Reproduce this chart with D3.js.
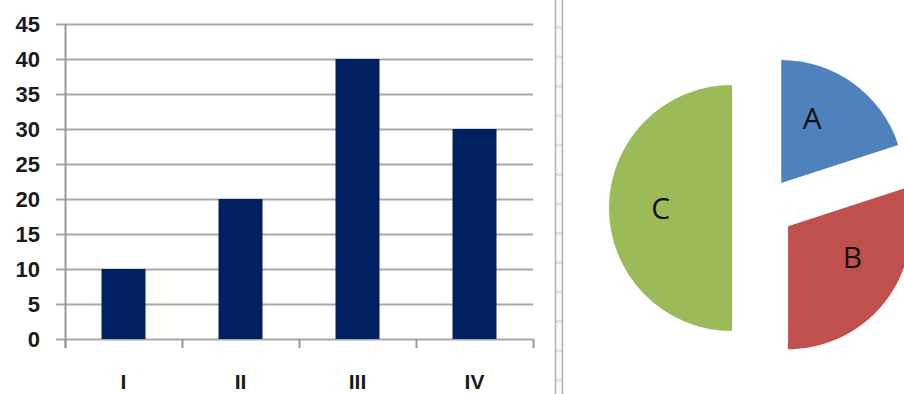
<!DOCTYPE html>
<html>
<head>
<meta charset="utf-8">
<script src="https://cdn.jsdelivr.net/npm/d3@7"></script>
<style>
  html, body { margin: 0; padding: 0; background: #ffffff; }
  svg { display: block; }
</style>
</head>
<body>
<svg id="chart" width="904" height="394"></svg>
<script>
// Column chart data
const categories = ["I", "II", "III", "IV"];
const barValues = [10, 20, 40, 30];
const yTicks = [0, 5, 10, 15, 20, 25, 30, 35, 40, 45];

// Pie chart data
const sliceLabels = ["A", "B", "C"];
const sliceValues = [20, 30, 50];
const sliceColors = ["#4f81bd", "#c0504d", "#9bbb59"];

const svg = d3.select("#chart");

// ---------- column chart ----------
const plot = { left: 65, right: 533, top: 24, bottom: 339 };

const y = d3.scaleLinear().domain([0, 45]).range([plot.bottom, plot.top]);
const x = d3.scaleBand()
  .domain(categories)
  .range([plot.left, plot.right])
  .paddingInner(0.624)
  .paddingOuter(0.312);
const step = x.step();

// horizontal gridlines (extending left as tick marks)
svg.append("g")
  .selectAll("line")
  .data(yTicks)
  .join("line")
  .attr("x1", plot.left - 9)
  .attr("x2", plot.right)
  .attr("y1", d => Math.round(y(d)) + 0.5)
  .attr("y2", d => Math.round(y(d)) + 0.5)
  .attr("stroke", "#a8a8a8")
  .attr("stroke-width", 2);

// bars
svg.append("g")
  .selectAll("rect")
  .data(barValues)
  .join("rect")
  .attr("x", (d, i) => x(categories[i]))
  .attr("width", x.bandwidth())
  .attr("y", d => y(d))
  .attr("height", d => y(0) - y(d))
  .attr("fill", "#002060");

// y axis line
svg.append("line")
  .attr("x1", plot.left + 0.5).attr("x2", plot.left + 0.5)
  .attr("y1", plot.top).attr("y2", plot.bottom + 9)
  .attr("stroke", "#9a9a9a").attr("stroke-width", 2);

// x axis category boundary ticks
const boundaries = d3.range(categories.length + 1).map(i => plot.left + i * step);
svg.append("g")
  .selectAll("line")
  .data(boundaries)
  .join("line")
  .attr("x1", d => Math.round(d) + 0.5)
  .attr("x2", d => Math.round(d) + 0.5)
  .attr("y1", plot.bottom)
  .attr("y2", plot.bottom + 9)
  .attr("stroke", "#9a9a9a")
  .attr("stroke-width", 2);

// y tick labels
svg.append("g")
  .selectAll("text")
  .data(yTicks)
  .join("text")
  .attr("x", 40)
  .attr("y", d => y(d))
  .attr("dy", "0.36em")
  .attr("text-anchor", "end")
  .attr("font-family", "'Liberation Sans', Arial, sans-serif")
  .attr("font-weight", "bold")
  .attr("font-size", 22)
  .attr("fill", "#1a1a1a")
  .text(d => d);

// x category labels
svg.append("g")
  .selectAll("text")
  .data(categories)
  .join("text")
  .attr("x", d => x(d) + x.bandwidth() / 2)
  .attr("y", 389)
  .attr("text-anchor", "middle")
  .attr("font-family", "'Liberation Sans', Arial, sans-serif")
  .attr("font-weight", "bold")
  .attr("font-size", 21)
  .attr("fill", "#1a1a1a")
  .text(d => d);

// ---------- panel divider ----------
const divider = svg.append("g");
divider.append("rect")
  .attr("x", 556).attr("y", 0).attr("width", 6).attr("height", 394)
  .attr("fill", "#fbfcfe");
divider.selectAll("rect.mark")
  .data(d3.range(27, 394, 29.4))
  .join("rect")
  .attr("class", "mark")
  .attr("x", 556).attr("width", 6)
  .attr("y", d => d - 1).attr("height", 3)
  .attr("fill", "#dde4f1");
[555.5, 562.5].forEach(px => {
  divider.append("line")
    .attr("x1", px).attr("x2", px)
    .attr("y1", 0).attr("y2", 394)
    .attr("stroke", "#b4b4b4").attr("stroke-width", 1.6);
});

// ---------- exploded pie ----------
const center = { x: 763, y: 208 };
const radius = 123;
const explode = 31;

const pie = d3.pie().sort(null).value(d => d)(sliceValues);
const arc = d3.arc().innerRadius(0).outerRadius(radius);
// labels sit a little ahead of each slice's bisector, about 0.58 r out
const labelArc = d3.arc().innerRadius(radius * 0.58).outerRadius(radius * 0.58);

const slices = svg.append("g")
  .attr("transform", `translate(${center.x},${center.y})`)
  .selectAll("g")
  .data(pie)
  .join("g")
  .attr("transform", d => {
    const mid = (d.startAngle + d.endAngle) / 2;
    return `translate(${explode * Math.sin(mid)},${-explode * Math.cos(mid)})`;
  });

slices.append("path")
  .attr("d", arc)
  .attr("fill", (d, i) => sliceColors[i]);

slices.append("text")
  .attr("transform", d => {
    const shift = d.endAngle - d.startAngle < Math.PI ? -0.18 : 0;
    const c = labelArc.centroid({ startAngle: d.startAngle + shift, endAngle: d.endAngle + shift });
    return `translate(${c})`;
  })
  .attr("dy", "0.36em")
  .attr("text-anchor", "middle")
  .attr("font-family", "'Open Sans', 'Liberation Sans', sans-serif")
  .attr("font-size", 30)
  .attr("fill", "#111111")
  .text((d, i) => sliceLabels[i]);
</script>
</body>
</html>
